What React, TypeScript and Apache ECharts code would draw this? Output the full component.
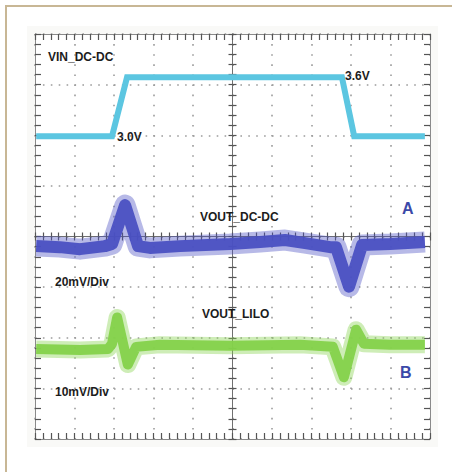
import React, { useEffect, useRef } from "react";
import * as echarts from "echarts";

// Time axis in divisions (0..10); each channel has its own vertical scale.
const vinData: [number, number][] = [
  [0.03, 3.0], [1.95, 3.0], [2.33, 3.6], [7.77, 3.6], [8.08, 3.0], [9.87, 3.0],
];

// VOUT_DC-DC deviation in mV (20 mV/div)
const voutDcData: [number, number][] = [
  [0.03, -0.4], [0.63, -0.8], [1.14, -1.6], [1.77, -0.4], [1.95, 0.4],
  [2.28, 15.8], [2.61, -0.4], [2.91, -1.1], [3.67, -0.4], [4.94, 0.4],
  [5.7, 1.2], [6.33, 2.0], [6.84, 0.8], [7.47, -0.8], [7.62, -0.8],
  [7.95, -16.4], [8.28, 0.0], [8.99, 0.4], [9.87, 1.2],
];

// VOUT_LILO deviation in mV (10 mV/div)
const voutLiloData: [number, number][] = [
  [0.03, -0.4], [1.14, -0.6], [1.85, -0.4], [1.95, 0.6], [2.08, 5.8],
  [2.35, -3.5], [2.56, 0.0], [3.16, 0.4], [4.94, 0.2], [6.71, 0.4],
  [7.54, 0.0], [7.82, -6.0], [8.13, 3.4], [8.33, 0.6], [8.99, 0.4], [9.87, 0.4],
];

const xDivs = [0, 10];
const yDivs = [0, 8];
const vinRange = [-0.08, 4.04];
const voutDcRange = [-76.6, 83.4];
const voutLiloRange = [-18.2, 61.8];

const labels = [
  { text: "VIN_DC-DC", x: 48, y: 57 },
  { text: "3.0V", x: 117, y: 137 },
  { text: "3.6V", x: 345, y: 76 },
  { text: "VOUT_DC-DC", x: 200, y: 217 },
  { text: "20mV/Div", x: 55, y: 282 },
  { text: "VOUT_LILO", x: 202, y: 314 },
  { text: "10mV/Div", x: 55, y: 392 },
];
const channelMarks = [
  { text: "A", x: 402, y: 208 },
  { text: "B", x: 400, y: 372 },
];

const GRID = { left: 35, top: 34, width: 395, height: 405 };
const TICK = "#555";
const FONT = "'Liberation Sans', Arial, sans-serif";

function xAx(position: string, opts: any = {}) {
  return {
    type: "value",
    min: xDivs[0],
    max: xDivs[1],
    interval: 1,
    position,
    offset: opts.offset || 0,
    axisLine: { show: true, onZero: false, lineStyle: { color: opts.lineColor || "#8a8a8a", width: 1 } },
    axisTick: { show: true, inside: opts.inside !== false, length: opts.len || 6, lineStyle: { color: TICK, width: 1.2 } },
    minorTick: { show: true, splitNumber: 5, length: opts.len || 6, lineStyle: { color: TICK, width: 1.2 } },
    axisLabel: { show: false },
    splitLine: {
      show: !!opts.split,
      lineStyle: { color: "#9c9c9c", width: 1.6, type: [1.6, 8.5] },
    },
    minorSplitLine: { show: false },
  };
}

function yAx(position: string, opts: any = {}) {
  return {
    type: "value",
    min: yDivs[0],
    max: yDivs[1],
    interval: 1,
    position,
    offset: opts.offset || 0,
    axisLine: { show: true, onZero: false, lineStyle: { color: opts.lineColor || "#8a8a8a", width: 1 } },
    axisTick: { show: true, inside: opts.inside !== false, length: opts.len || 6, lineStyle: { color: TICK, width: 1.2 } },
    minorTick: { show: true, splitNumber: 5, length: opts.len || 6, lineStyle: { color: TICK, width: 1.2 } },
    axisLabel: { show: false },
    splitLine: {
      show: !!opts.split,
      lineStyle: { color: "#9c9c9c", width: 1.6, type: [1.6, 6.3] },
    },
    minorSplitLine: { show: false },
  };
}

function channelAxis(range: number[]) {
  return { type: "value", show: false, min: range[0], max: range[1], axisLine: { onZero: false }, splitLine: { show: false } };
}

function noisy(name: string, data: [number, number][], yIdx: number, color: string, core: number, fringe: number) {
  return [
    {
      type: "line", name, data, xAxisIndex: 0, yAxisIndex: yIdx, symbol: "none", silent: true, z: 3,
      lineStyle: { color, width: fringe, opacity: 0.4, join: "round", cap: "butt" },
    },
    {
      type: "line", name, data, xAxisIndex: 0, yAxisIndex: yIdx, symbol: "none", silent: true, z: 4,
      lineStyle: { color, width: core, opacity: 0.95, join: "round", cap: "butt" },
    },
  ];
}

export default function App() {
  const ref = useRef<HTMLDivElement>(null);
  useEffect(() => {
    if (!ref.current) return;
    const chart = echarts.init(ref.current, undefined, { renderer: "svg" });
    const cx = GRID.width / 2;
    const cy = GRID.height / 2;
    chart.setOption({
      animation: false,
      backgroundColor: "#ffffff",
      grid: { left: GRID.left, top: GRID.top, width: GRID.width, height: GRID.height, containLabel: false },
      xAxis: [
        xAx("bottom", { split: true }),
        xAx("top"),
        xAx("bottom", { offset: -cy, inside: true, len: 4, lineColor: "#707070" }),
        xAx("bottom", { offset: -cy, inside: false, len: 4, lineColor: "#707070" }),
      ],
      yAxis: [
        yAx("left", { split: true }),
        yAx("right"),
        yAx("left", { offset: -cx, inside: true, len: 4, lineColor: "#707070" }),
        yAx("left", { offset: -cx, inside: false, len: 4, lineColor: "#707070" }),
        channelAxis(vinRange),
        channelAxis(voutDcRange),
        channelAxis(voutLiloRange),
      ],
      series: [
        {
          type: "line", name: "VIN_DC-DC", data: vinData, xAxisIndex: 0, yAxisIndex: 4, symbol: "none", silent: true, z: 4,
          lineStyle: { color: "#5cc6e1", width: 6, join: "miter" },
        },
        ...noisy("VOUT_DC-DC", voutDcData, 5, "#4a50c2", 12, 21),
        ...noisy("VOUT_LILO", voutLiloData, 6, "#84d24a", 10, 17),
      ],
      graphic: [
        { type: "rect", z: -10, silent: true, shape: { x: 27, y: 26, width: 411, height: 421 }, style: { fill: "#f9f9f7" } },
        { type: "rect", z: -9, silent: true, shape: { x: GRID.left, y: GRID.top, width: GRID.width, height: GRID.height }, style: { fill: "#ffffff" } },
        { type: "line", z: 10, silent: true, shape: { x1: 6, y1: 6, x2: 452, y2: 6 }, style: { stroke: "#c8b795", lineWidth: 2 } },
        { type: "line", z: 10, silent: true, shape: { x1: 6, y1: 5, x2: 6, y2: 472 }, style: { stroke: "#c8b795", lineWidth: 2 } },
        ...labels.map((l) => ({
          type: "text", z: 20, silent: true, x: l.x, y: l.y,
          style: { text: l.text, fill: "#1c1c1c", font: `bold 12px ${FONT}`, textVerticalAlign: "middle", textAlign: "left" },
        })),
        ...channelMarks.map((l) => ({
          type: "text", z: 20, silent: true, x: l.x, y: l.y,
          style: { text: l.text, fill: "#3b49a8", font: `bold 16px ${FONT}`, textVerticalAlign: "middle", textAlign: "left" },
        })),
      ],
    });
    return () => chart.dispose();
  }, []);
  return <div ref={ref} style={{ position: "fixed", left: 0, top: 0, width: 452, height: 472 }} />;
}
